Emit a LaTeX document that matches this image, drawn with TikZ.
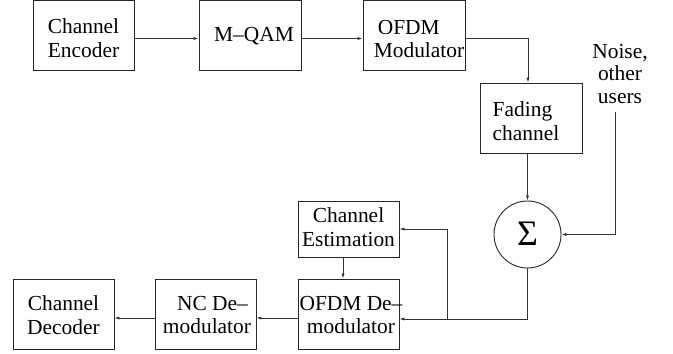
\documentclass[tikz,border=0pt]{standalone}
\usepackage{fontspec}
\setmainfont{Liberation Serif}
\usetikzlibrary{arrows.meta}
\begin{document}
\begin{tikzpicture}[x=1bp,y=-1bp,
  blk/.style={draw=black!85,line width=0.9bp,inner sep=0pt,minimum height=70bp,
    minimum width=#1},
  blk/.default=101bp,
  txt/.style={inner sep=0pt,align=center,font=\rmfamily\fontsize{21.5}{24}\selectfont},
  arr/.style={draw=black!80,line width=0.8bp,-{Latex[length=5bp,width=3.2bp]}}]
\useasboundingbox (0,0) rectangle (673,353);
\node[blk] (enc) at (83.5,35.5) {};
\node[blk=102bp] (qam) at (250,35.5) {};
\node[blk=102bp] (ofdm) at (414,35.5) {};
\node[blk=102bp] (fad) at (531,118) {};
\node[blk,minimum height=56bp] (est) at (348.5,229) {};
\node[blk] (dem) at (348.5,314) {};
\node[blk] (nc) at (205.5,314) {};
\node[blk] (dec) at (63.5,314) {};
\node[draw=black!85,line width=0.9bp,circle,minimum size=67bp,inner sep=0pt] (sum) at (527.5,234.5) {};
\node[txt] (encT) at (83.5,38) {Channel\\Encoder};
\node[txt] (qamT) at (254,36) {M–QAM};
\node[txt,align=left] (ofdmT) at (419,39) {\hspace*{4bp}OFDM\\Modulator};
\node[txt,align=left] (fadT) at (526,121) {Fading\\channel};
\node[txt] (estT) at (348.5,227) {Channel\\Estimation};
\node[txt] (demT) at (351,315) {OFDM De–\\modulator};
\node[txt] (ncT) at (207,315) {\hspace*{11bp}NC De–\\modulator};
\node[txt] (decT) at (63.5,315) {Channel\\Decoder};
\node[inner sep=0pt,font=\fontsize{36}{36}\selectfont] (sig) at ([yshift=1bp]sum.center) {Σ};
\node[txt,font=\rmfamily\fontsize{21.5}{22.5}\selectfont] (noise) at (620,74) {Noise,\\other\\users};
\coordinate (nz) at (615,112);
\coordinate (br) at (447,319);
\draw[arr] ([yshift=-3bp]enc.east) -- ([yshift=-3bp]qam.west);
\draw[arr] ([yshift=-3bp]qam.east) -- ([yshift=-3bp]ofdm.west);
\draw[arr] ([yshift=-3bp]ofdm.east) -| ([xshift=-3bp]fad.north);
\draw[arr] (fad.south -| sum.north) -- (sum.north);
\draw[arr] (nz) |- (sum.east);
\draw[arr] (sum.south) |- ([yshift=-5bp]dem.east);
\draw[arr] (br) |- (est.east);
\draw[arr] ([xshift=-5.5bp]est.south) -- ([xshift=-5.5bp]dem.north);
\draw[arr] ([yshift=-4bp]dem.west) -- ([yshift=-4bp]nc.east);
\draw[arr] ([yshift=-4bp]nc.west) -- ([yshift=-4bp]dec.east);
\end{tikzpicture}
\end{document}
